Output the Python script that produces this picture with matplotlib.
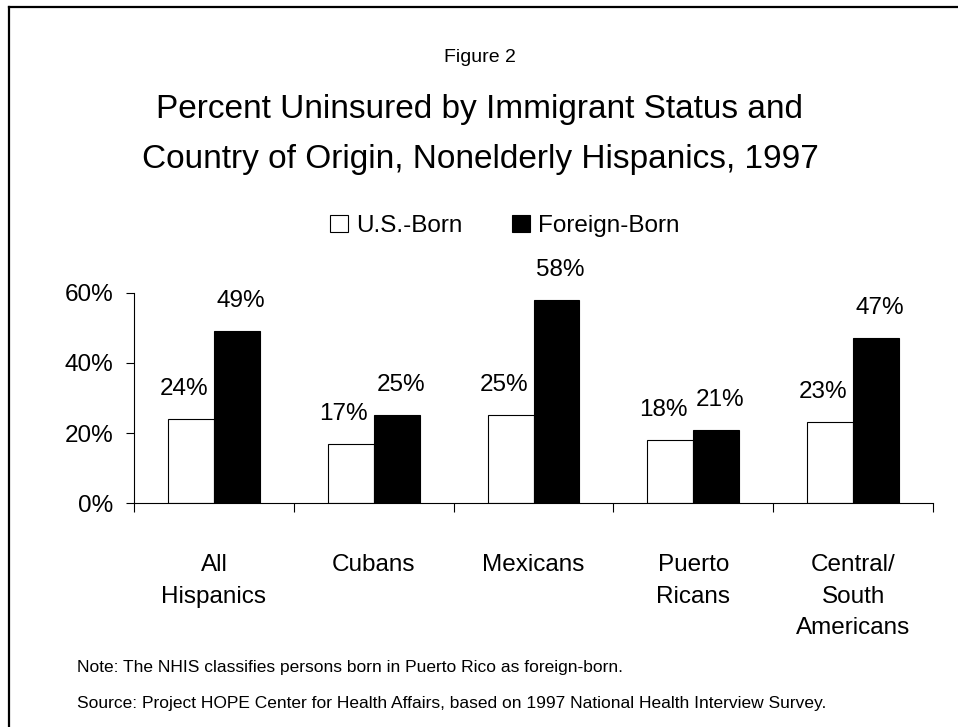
import matplotlib
matplotlib.use("Agg")
import matplotlib.pyplot as plt
import numpy as np
from matplotlib.lines import Line2D
from matplotlib.patches import Patch

categories = ["All\nHispanics", "Cubans", "Mexicans", "Puerto\nRicans", "Central/\nSouth\nAmericans"]
us_born = [24, 17, 25, 18, 23]
foreign_born = [49, 25, 58, 21, 47]
y_ticks = [0, 20, 40, 60]

plt.rcParams["font.family"] = ["Liberation Sans", "DejaVu Sans"]

fig = plt.figure(figsize=(9.58, 7.27), dpi=100)
ax = fig.add_axes([0.1399, 0.3081, 0.8340, 0.2889])

x = np.arange(len(categories))
width = 0.2875
ax.bar(x - width / 2, us_born, width, color="white", edgecolor="black", linewidth=0.8)
ax.bar(x + width / 2, foreign_born, width, color="black", edgecolor="black", linewidth=0.8)

for xi, v in zip(x, us_born):
    ax.annotate(f"{v}%", (xi - width / 2, v), xytext=(-5, 21.6), textcoords="offset points",
                ha="center", va="center", fontsize=17.5)
for xi, v in zip(x, foreign_born):
    ax.annotate(f"{v}%", (xi + width / 2, v), xytext=(3, 21.6), textcoords="offset points",
                ha="center", va="center", fontsize=17.5)

ax.set_xlim(-0.5, len(categories) - 0.5)
ax.set_ylim(0, 60)
ax.set_yticks(y_ticks)
ax.set_yticklabels([f"{t}%" for t in y_ticks], fontsize=17.5)
ax.set_xticks(np.arange(len(categories) + 1) - 0.5)
ax.set_xticklabels([])
ax.set_xticks(x, minor=True)
ax.set_xticklabels(categories, minor=True, fontsize=17.5, linespacing=1.55)
ax.tick_params(axis="x", which="major", direction="out", length=6.5, width=0.8)
ax.tick_params(axis="x", which="minor", length=0, pad=37)
ax.tick_params(axis="y", direction="out", length=6, width=0.8, pad=9)
for side in ["top", "right"]:
    ax.spines[side].set_visible(False)
for side in ["left", "bottom"]:
    ax.spines[side].set_linewidth(0.8)

handles = [Patch(facecolor="white", edgecolor="black", linewidth=0.8, label="U.S.-Born"),
           Patch(facecolor="black", edgecolor="black", linewidth=0.8, label="Foreign-Born")]
fig.legend(handles=handles, loc="center", bbox_to_anchor=(0.527, 0.689), ncol=2, frameon=False,
           fontsize=17.5, handlelength=0.76, handleheight=0.68, handletextpad=0.34,
           columnspacing=2.0, borderpad=0)

fig.text(0.501, 0.921, "Figure 2", ha="center", va="center", fontsize=14)
fig.text(0.501, 0.849, "Percent Uninsured by Immigrant Status and", ha="center", va="center", fontsize=24)
fig.text(0.501, 0.780, "Country of Origin, Nonelderly Hispanics, 1997", ha="center", va="center", fontsize=24)

fig.text(0.080, 0.0825, "Note: The NHIS classifies persons born in Puerto Rico as foreign-born.",
         ha="left", va="center", fontsize=12.5)
fig.text(0.080, 0.033, "Source: Project HOPE Center for Health Affairs, based on 1997 National Health Interview Survey.",
         ha="left", va="center", fontsize=12.5)

# frame around the chart, open on the right and bottom
fig.add_artist(Line2D([0.0094, 0.0094], [0, 0.9904], transform=fig.transFigure, color="black", linewidth=1.6))
fig.add_artist(Line2D([0.0094, 1.0], [0.9904, 0.9904], transform=fig.transFigure, color="black", linewidth=1.6))

fig.savefig("out.png", dpi=100)
